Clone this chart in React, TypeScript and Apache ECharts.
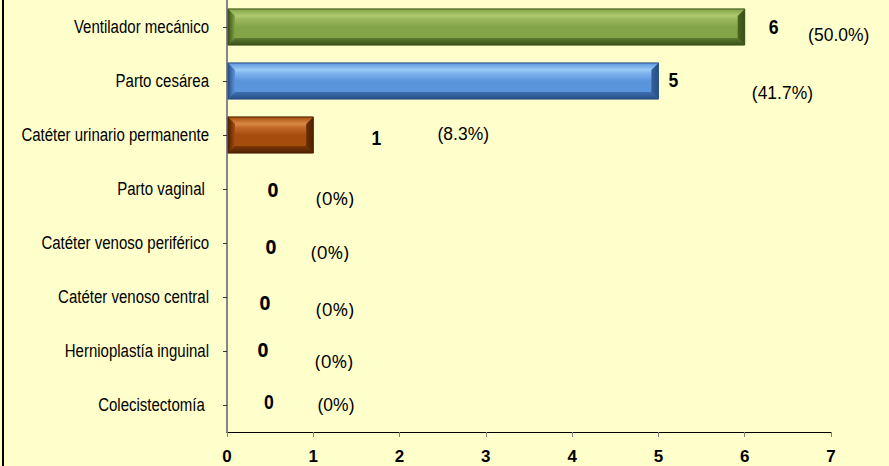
import React, { useEffect, useRef } from "react";
import * as echarts from "echarts";

const categories = [
  "Ventilador mecánico",
  "Parto cesárea",
  "Catéter urinario permanente",
  "Parto vaginal ",
  "Catéter venoso periférico",
  "Catéter venoso central",
  "Hernioplastía inguinal",
  "Colecistectomía ",
];
const counts = [6, 5, 1, 0, 0, 0, 0, 0];
const percentLabels = ["(50.0%)", "(41.7%)", "(8.3%)", "(0%)", "(0%)", "(0%)", "(0%)", "(0%)"];
const xTicks = [0, 1, 2, 3, 4, 5, 6, 7];

// label offsets relative to bar end (pixels): [countDx, countDy, pctDx, pctDy]
const labelOffsets = [
  [29, 0, 94, 7],
  [15, -1, 124, 11],
  [63, 3, 150, -2],
  [46, 1, 108, 9],
  [44, 4, 103, 9],
  [38, 6, 108, 12],
  [36, -1, 107, 10],
  [42, -3, 109, -1],
];

const palettes = [
  { light: "#AFCA70", top: "#9AB85B", face: "#84A448", bottom: "#5E7A32", dark: "#3A5017", right: "#4A6420" },
  { light: "#9CCBF6", top: "#7DB3EE", face: "#5A95DC", bottom: "#3E6EAE", dark: "#284F86", right: "#325F9C" },
  { light: "#D98A45", top: "#C4692A", face: "#A64D0D", bottom: "#7C3707", dark: "#4E2102", right: "#692C04" },
];

const SANS = '"Liberation Sans", Arial, sans-serif';
const CAL = '"Open Sans", "Noto Sans", sans-serif';

export default function App() {
  const ref = useRef<HTMLDivElement>(null);
  useEffect(() => {
    if (!ref.current) return;
    const chart = echarts.init(ref.current, null, { renderer: "svg" });
    const data = counts.map((v, i) => [v, i]);
    chart.setOption({
      animation: false,
      backgroundColor: "#FFFFCC",
      grid: { left: 227, right: 58, top: 0, bottom: 34, containLabel: false },
      xAxis: {
        type: "value",
        min: 0,
        max: 7,
        interval: 1,
        axisLine: { show: true, lineStyle: { color: "#000", width: 1 } },
        axisTick: { show: true, length: 5, lineStyle: { color: "#808080" } },
        splitLine: { show: false },
        axisLabel: {
          color: "#000",
          fontWeight: "bold",
          fontSize: 17,
          fontFamily: SANS,
          margin: 16,
          formatter: (v: number) => (xTicks.includes(v) ? String(v) : ""),
        },
      },
      yAxis: {
        type: "category",
        inverse: true,
        data: categories,
        axisLine: { show: true, lineStyle: { color: "#868686", width: 2 } },
        axisTick: { show: true, length: 4, alignWithLabel: true, lineStyle: { color: "#333" } },
        axisLabel: { show: false },
      },
      graphic: [
        { type: "rect", shape: { x: 2, y: 0, width: 2, height: 466 }, style: { fill: "#000" } },
      ],
      series: [
        {
          type: "custom",
          data,
          encode: { x: 0, y: 1 },
          renderItem: (params: any, api: any) => {
            const v = api.value(0);
            const idx = api.value(1);
            const start = api.coord([0, idx]);
            const end = api.coord([v, idx]);
            const band = api.size([0, 1])[1];
            const h = band * 0.67;
            const cy = start[1];
            const yt = cy - h / 2;
            const yb = cy + h / 2;
            const x0 = start[0] + 1;
            const x1 = end[0];
            const off = labelOffsets[idx];
            const children: any[] = [];
            children.push({
              type: "text",
              x: start[0] - 18,
              y: cy,
              scaleX: 0.79,
              style: {
                text: categories[idx],
                x: 0,
                y: 0,
                align: "right",
                verticalAlign: "middle",
                fill: "#000",
                fontSize: 19,
                fontFamily: SANS,
              },
            });
            if (v > 0) {
              const p = palettes[idx % palettes.length];
              const b = 7;
              children.push({
                type: "rect",
                shape: { x: x0, y: yt, width: x1 - x0, height: h },
                style: {
                  fill: new echarts.graphic.LinearGradient(0, 0, 0, 1, [
                    { offset: 0, color: p.top },
                    { offset: 0.5, color: p.face },
                    { offset: 1, color: p.bottom },
                  ]),
                },
              });
              children.push({
                type: "rect",
                shape: { x: x0 + b, y: yt + b, width: x1 - x0 - 2 * b, height: h - 2 * b },
                style: {
                  fill: new echarts.graphic.LinearGradient(0, 0, 0, 1, [
                    { offset: 0, color: p.light },
                    { offset: 0.15, color: p.top },
                    { offset: 0.5, color: p.face },
                    { offset: 1, color: p.face },
                  ]),
                },
              });
              children.push({
                type: "polygon",
                shape: { points: [[x0, yt], [x1, yt], [x1 - b, yt + b], [x0 + b, yt + b]] },
                style: {
                  fill: new echarts.graphic.LinearGradient(0, 0, 0, 1, [
                    { offset: 0, color: p.face },
                    { offset: 1, color: p.light },
                  ]),
                },
              });
              children.push({
                type: "polygon",
                shape: { points: [[x0, yb], [x1, yb], [x1 - b, yb - b], [x0 + b, yb - b]] },
                style: {
                  fill: new echarts.graphic.LinearGradient(0, 0, 0, 1, [
                    { offset: 0, color: p.bottom },
                    { offset: 1, color: p.dark },
                  ]),
                },
              });
              children.push({
                type: "polygon",
                shape: { points: [[x0, yt], [x0 + b, yt + b], [x0 + b, yb - b], [x0, yb]] },
                style: {
                  fill: new echarts.graphic.LinearGradient(0, 0, 1, 0, [
                    { offset: 0, color: p.dark },
                    { offset: 1, color: p.face },
                  ]),
                },
              });
              children.push({
                type: "polygon",
                shape: { points: [[x1, yt], [x1 - b, yt + b], [x1 - b, yb - b], [x1, yb]] },
                style: {
                  fill: new echarts.graphic.LinearGradient(0, 0, 1, 0, [
                    { offset: 0, color: p.right },
                    { offset: 1, color: p.dark },
                  ]),
                },
              });
              children.push({
                type: "rect",
                shape: { x: x0, y: yt, width: x1 - x0, height: h },
                style: { fill: "none", stroke: p.dark, lineWidth: 1 },
              });
            }
            const calRow = idx >= 3 && idx <= 6;
            const font = calRow ? CAL : SANS;
            children.push({
              type: "text",
              x: x1 + off[0],
              y: cy + off[1],
              scaleX: calRow ? 1 : 0.88,
              style: {
                text: String(v),
                x: 0,
                y: 0,
                align: "center",
                verticalAlign: "middle",
                fill: "#000",
                fontWeight: "bold",
                fontSize: calRow ? 19 : 20,
                fontFamily: font,
              },
            });
            children.push({
              type: "text",
              x: x1 + off[2],
              y: cy + off[3],
              scaleX: calRow ? 1 : 0.92,
              style: {
                text: percentLabels[idx],
                x: 0,
                y: 0,
                align: "center",
                verticalAlign: "middle",
                fill: "#000",
                fontSize: 19,
                fontFamily: font,
              },
            });
            return { type: "group", children };
          },
        },
      ],
    });
    return () => chart.dispose();
  }, []);
  return (
    <div
      ref={ref}
      style={{ position: "fixed", left: 0, top: 0, width: 889, height: 466 }}
    />
  );
}
